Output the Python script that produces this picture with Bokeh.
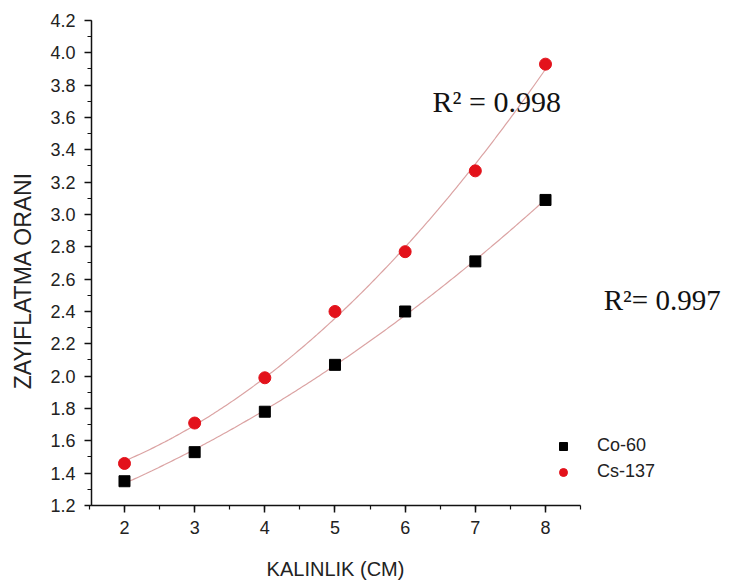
import math
import numpy as np
from bokeh.plotting import figure
from bokeh.models import Range1d, Legend, LegendItem, Label, FixedTicker
from bokeh.embed import file_html
from bokeh.resources import INLINE

thickness = [2, 3, 4, 5, 6, 7, 8]
co60 = [1.35, 1.53, 1.78, 2.07, 2.40, 2.71, 3.09]
cs137 = [1.46, 1.71, 1.99, 2.40, 2.77, 3.27, 3.93]
r2_labels = ["R\u00b2 = 0.998", "R\u00b2= 0.997"]
x_title = "KALINLIK (CM)"
y_title = "ZAYIFLATMA ORANI"
x_ticks = [2, 3, 4, 5, 6, 7, 8]
y_ticks = [1.2, 1.4, 1.6, 1.8, 2.0, 2.2, 2.4, 2.6, 2.8, 3.0, 3.2, 3.4, 3.6, 3.8, 4.0, 4.2]

FONT = "Liberation Sans"
RED = "#e3121b"
FIT = "#dba3a3"

# the frame covers the whole canvas; axes are pinned at x=1.53 and y=1.2
p = figure(width=732, height=583, output_backend="svg", toolbar_location=None,
           x_range=Range1d(0.2329, 10.665), y_range=Range1d(0.7175, 4.3237))
p.min_border_left = 0
p.min_border_right = 0
p.min_border_top = 0
p.min_border_bottom = 0
p.outline_line_color = None
p.grid.grid_line_color = None
p.background_fill_color = "white"
p.border_fill_color = "white"

# quadratic fits from the data
xs = np.linspace(min(thickness), max(thickness), 200)
fit_co = np.polyval(np.polyfit(thickness, co60, 2), xs)
fit_cs = np.polyval(np.polyfit(thickness, cs137, 2), xs)
p.line(xs, fit_co, line_color=FIT, line_width=1.2)
p.line(xs, fit_cs, line_color=FIT, line_width=1.2)

r_co = p.scatter(thickness, co60, marker="square", size=11, fill_color="black", line_color="black")
r_cs = p.scatter(thickness, cs137, marker="circle", size=12, fill_color=RED, line_color=RED)

for ax in (p.xaxis[0], p.yaxis[0]):
    ax.axis_line_width = 1.5
    ax.axis_line_color = "#111111"
    ax.major_tick_line_color = "#111111"
    ax.minor_tick_line_color = "#111111"
    ax.major_tick_line_width = 1.5
    ax.minor_tick_line_width = 1.2
    ax.major_tick_out = 7
    ax.major_tick_in = 0
    ax.minor_tick_out = 4
    ax.minor_tick_in = 0
    ax.major_label_text_font = FONT
    ax.major_label_text_color = "#222222"

p.xaxis.fixed_location = 1.2
p.yaxis.fixed_location = 1.53
p.xaxis.bounds = (1.53, 8.5)
p.yaxis.bounds = (1.2, 4.2)
p.xaxis.ticker = FixedTicker(ticks=x_ticks, minor_ticks=[1.5 + 0.5 * i for i in range(15)])
p.yaxis.ticker = FixedTicker(ticks=y_ticks, minor_ticks=[round(1.2 + 0.1 * i, 2) for i in range(31)])
p.xaxis.major_label_overrides = {t: str(t) for t in x_ticks}
p.yaxis.major_label_overrides = {t: f"{t:.1f}" for t in y_ticks}
p.xaxis.major_label_text_font_size = "18px"
p.yaxis.major_label_text_font_size = "18px"
p.xaxis.major_label_standoff = 9
p.yaxis.major_label_standoff = 9

# axis titles
p.add_layout(Label(x=5.007, y=0.81, text=x_title, text_font=FONT, text_font_size="20px",
                   text_align="center", text_baseline="middle", text_color="#222222"))
p.add_layout(Label(x=0.56, y=2.592, text=y_title, text_font=FONT, text_font_size="23px",
                   text_align="center", text_baseline="middle", angle=math.pi / 2,
                   text_color="#222222"))

# R^2 annotations
p.add_layout(Label(x=6.39, y=3.70, text=r2_labels[0], text_font="Liberation Serif",
                   text_font_size="30px", text_baseline="middle", text_color="#111111"))
p.add_layout(Label(x=8.83, y=2.47, text=r2_labels[1], text_font="Liberation Serif",
                   text_font_size="29px", text_baseline="middle", text_color="#111111"))

legend = Legend(items=[LegendItem(label="Co-60", renderers=[r_co]),
                       LegendItem(label="Cs-137", renderers=[r_cs])],
                location=(553, 101), border_line_color=None, background_fill_alpha=0,
                label_text_font=FONT, label_text_font_size="18px", label_text_color="#222222",
                glyph_width=20, glyph_height=20, spacing=5, label_standoff=24)
p.add_layout(legend)

open("out.html", "w").write(file_html(p, INLINE))
